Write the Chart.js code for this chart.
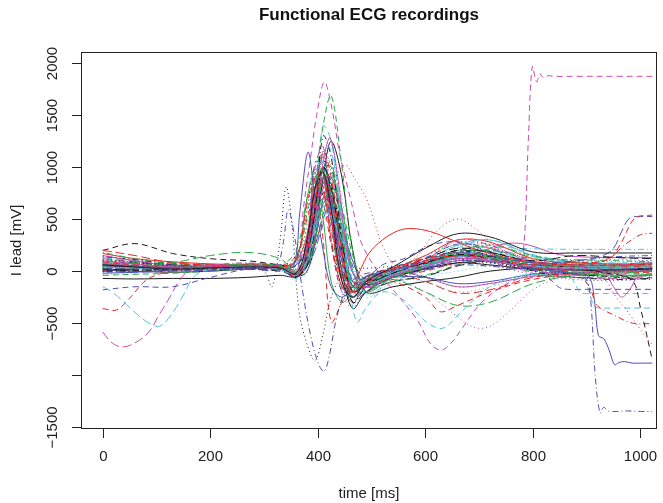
<!DOCTYPE html>
<html>
<head>
<meta charset="utf-8">
<script src="https://cdn.jsdelivr.net/npm/chart.js@4.4.1/dist/chart.umd.min.js"></script>
<style>
  body { margin: 0; background: #fff; }
  #wrap { width: 663px; height: 503px; }
</style>
</head>
<body>
<div id="wrap"><canvas id="ecg" width="663" height="503"></canvas></div>
<script>
// time grids (ms)
const tMain = [0, 60, 130, 200, 270, 330, 360, 380, 395, 410, 425, 445, 465, 490, 540, 600, 660, 720, 800, 880, 960, 1022];
const tRedRise = [0, 60, 130, 200, 270, 330, 360, 380, 395, 410, 425, 445, 465, 490, 540, 600, 660, 720, 800, 880, 940, 965, 990, 1022];
const tBlueDip = [0, 60, 130, 200, 270, 320, 335, 345, 358, 372, 388, 402, 412, 422, 435, 455, 480, 520, 600, 680, 760, 840, 880, 900, 908, 916, 925, 932, 940, 955, 975, 1000, 1022];
const tCyanEarly = [0, 20, 50, 80, 106, 130, 150, 170, 200, 270, 330, 360, 380, 395, 410, 425, 445, 465, 490, 540, 600, 660, 720, 800, 880, 960, 1022];
const tMagDip = [0, 60, 130, 200, 270, 330, 360, 380, 395, 410, 423, 440, 460, 490, 540, 600, 660, 720, 800, 880, 930, 950, 965, 980, 995, 1022];
const tBlackDrop = [0, 60, 130, 200, 270, 330, 360, 380, 395, 410, 425, 445, 465, 490, 540, 600, 660, 720, 800, 880, 940, 985, 1000, 1022];
const tLate = [0, 60, 130, 200, 270, 330, 360, 380, 400, 425, 450, 470, 490, 505, 520, 545, 580, 620, 660, 700, 750, 800, 880, 960, 1022];
const tBlueRise = [0, 60, 130, 200, 270, 330, 360, 380, 395, 410, 425, 445, 465, 490, 540, 600, 660, 720, 800, 880, 930, 950, 965, 980, 1000, 1022];
const tPinkStep = [0, 60, 130, 200, 270, 330, 360, 380, 395, 410, 425, 445, 465, 490, 540, 600, 660, 720, 770, 782, 792, 799, 807, 813, 820, 828, 840, 880, 960, 1022];
const tBlackDot = [0, 60, 130, 200, 270, 300, 315, 330, 341, 352, 365, 380, 395, 410, 425, 445, 470, 500, 560, 640, 720, 800, 880, 960, 1022];
const tRedDrop = [0, 60, 130, 200, 270, 330, 360, 380, 395, 410, 425, 445, 465, 490, 540, 600, 660, 720, 800, 880, 905, 920, 950, 985, 1022];
const tBlueStep = [0, 60, 130, 200, 270, 330, 355, 367, 382, 395, 410, 425, 445, 465, 490, 540, 600, 660, 720, 800, 880, 905, 915, 922, 932, 942, 952, 960, 970, 985, 1000, 1022];
const tCyanStep = [0, 60, 130, 200, 270, 330, 360, 380, 400, 420, 440, 458, 473, 490, 520, 560, 600, 632, 665, 720, 780, 840, 870, 880, 890, 900, 960, 1022];
const tMagDot = [0, 60, 130, 200, 270, 330, 360, 380, 395, 410, 425, 445, 465, 490, 540, 600, 650, 690, 720, 760, 800, 850, 900, 960, 1022];
const tBlueFlat = [0, 60, 130, 200, 270, 330, 360, 380, 395, 410, 425, 445, 465, 490, 520, 560, 610, 665, 720, 780, 820, 835, 850, 865, 900, 960, 1022];
const tRedHump = [0, 60, 130, 200, 270, 330, 360, 380, 395, 410, 425, 445, 465, 480, 495, 520, 550, 575, 610, 650, 700, 760, 820, 880, 960, 1022];
const tMagEarly = [0, 15, 35, 60, 85, 105, 125, 140, 160, 200, 270, 330, 360, 380, 395, 410, 425, 445, 465, 490, 540, 600, 660, 720, 800, 880, 960, 1022];
const tRedEarly = [0, 25, 50, 80, 110, 140, 170, 200, 270, 330, 360, 380, 395, 410, 425, 445, 465, 490, 540, 600, 628, 660, 720, 800, 880, 960, 1022];
const tMagHump = [0, 60, 130, 200, 270, 330, 360, 380, 395, 410, 425, 445, 465, 490, 540, 600, 660, 710, 740, 770, 800, 840, 880, 960, 1022];
const tPinkDrop = [0, 60, 130, 200, 270, 330, 360, 380, 395, 410, 425, 445, 465, 490, 540, 600, 660, 720, 800, 880, 930, 955, 975, 1000, 1022];
const tMagTall = [0, 60, 130, 200, 270, 330, 361, 373, 386, 398, 412, 425, 440, 451, 466, 479, 498, 520, 545, 585, 610, 630, 650, 670, 705, 760, 820, 880, 960, 1022];
const tRedUp = [0, 60, 130, 200, 270, 330, 360, 380, 395, 410, 425, 445, 465, 490, 540, 600, 660, 720, 800, 880, 940, 970, 1000, 1022];
const tCyanLow = [0, 60, 130, 200, 270, 330, 360, 380, 395, 410, 425, 445, 465, 490, 540, 600, 660, 720, 800, 880, 895, 905, 915, 930, 960, 1022];

// I lead values (mV), one array per recording
const ecg00 = [60, 40, 20, 30, 40, 30, -20, 300, 800, 950, 600, -100, -250, -100, 40, 220, 360, 330, 185, 175, 175, 175];
const ecg01 = [90, 60, 30, 40, 60, 40, -60, 200, 700, 1150, 900, 200, -200, -120, 20, 100, 150, 120, 60, 80, 110, 280, 510, 540];
const ecg02 = [40, 30, 20, 30, 50, 30, 60, 450, 750, 1000, 700, 0, -250, -80, 20, 150, 250, 180, 20, -40, -60, -50];
const ecg03 = [30, 20, 10, 20, 30, 20, 250, 590, 300, -200, -650, -900, -965, -800, -450, -150, -40, 0, 40, 60, 30, 10, -30, -80, -300, -1000, -1365, -1310, -1345, -1350, -1345, -1350, -1350];
const ecg04 = [-150, -210, -350, -480, -530, -400, -230, -50, 20, 40, 20, -40, 100, 450, 700, 600, 200, -100, -80, 0, 60, 140, 120, 50, 30, 30, 40];
const ecg05 = [100, 70, 40, 40, 50, 30, -40, 100, 500, 1050, 1280, 800, 50, -150, -40, 50, 120, 100, 40, 20, 0, -150, -250, -180, -60, -40];
const ecg06 = [20, 10, 20, 30, 40, 30, -30, 150, 600, 1000, 800, 200, -200, -120, -20, 80, 160, 120, 40, 20, -20, -90, -350, -850];
const ecg07 = [50, 40, 30, 40, 50, 40, 0, 80, 350, 800, 1020, 880, 700, 480, 250, 60, 120, 380, 500, 380, 150, 50, 30, 30, 40];
const ecg08 = [120, 80, 40, 50, 60, 40, 20, 150, 500, 900, 1050, 400, -150, -120, 0, 60, 180, 200, 120, 110, 100, 90];
const ecg09 = [60, 50, 40, 40, 50, 30, -40, 200, 800, 1100, 700, 0, -250, -100, 10, 100, 180, 150, 80, 100, 150, 220, 380, 510, 525, 525];
const ecg10 = [40, 30, 20, 30, 40, 30, -20, 150, 400, 560, 520, 300, 0, -120, -30, 50, 120, 100, 40, 30, 30, 40];
const ecg11 = [80, 60, 40, 40, 50, 40, -20, 250, 700, 900, 650, 100, -200, -100, 0, 100, 180, 100, 30, 150, 1300, 1970, 1820, 1900, 1860, 1880, 1875, 1875, 1875, 1875];
const ecg12 = [100, 80, 50, 40, 30, 0, -150, 300, 810, 450, -380, -700, -860, -600, -250, -50, 20, 30, 60, 120, 80, 40, 30, 30, 40];
const ecg13 = [40, 30, 20, 30, 40, 30, -30, 200, 650, 950, 700, 100, -250, -100, 0, 80, 150, 100, 30, -20, -150, -330, -420, -500, -505];
const ecg14 = [20, 40, 80, 150, 180, 120, 0, 100, 500, 900, 800, 200, -150, -120, -80, -200, -330, -300, -120, -40, -20, 0];
const ecg15 = [50, 40, 30, 40, 50, 30, 50, 585, 1145, 680, 200, -150, -250, -150, -50, 10, 80, 150, 100, 30, -30, -60, -300, -620, -650, -760, -900, -880, -870, -885, -885, -885];
const ecg16 = [80, 60, 30, 40, 50, 30, -40, 200, 900, 1200, 700, -100, -490, -350, -200, -280, -480, -550, -400, -150, -40, -40, -60, -140, -210, -215, -215, -215];
const ecg17 = [30, 20, 20, 30, 40, 30, -40, 150, 500, 800, 600, 100, -200, -150, -80, -200, -400, -540, -530, -370, -180, -60, -20, 0, 10];
const ecg18 = [0, 10, 10, 20, 30, 20, -60, 100, 600, 1300, 1100, 300, -300, -150, -20, 80, 200, 150, 0, -60, -80, -70];
const ecg19 = [200, 150, 80, 60, 50, 30, 120, 650, 900, 800, 300, -150, -200, -50, 30, 120, 180, 120, 40, 30, 40, 40];
const ecg20 = [60, 50, 30, 40, 70, 50, -20, 80, 300, 700, 900, 600, 0, -200, -60, 50, 150, 130, 30, -20, -40, -30];
const ecg21 = [-180, -150, -150, -60, 20, 20, -30, 150, 500, 850, 700, 150, -150, -80, 60, 120, 250, 280, 180, 40, -30, -90, -160, -175, -175, -175, -175];
const ecg22 = [-30, -20, 0, 20, 30, 10, -80, 0, 200, 500, 600, 350, -50, -150, -80, -100, -200, -150, -40, -10, 0, 10];
const ecg23 = [100, 70, 40, 60, 80, 50, 80, 300, 1000, 1200, 600, -100, -300, -100, 0, 100, 300, 250, 80, 50, 60, 80];
const ecg24 = [20, 20, 30, 40, 40, 30, -50, 50, 400, 850, 800, 200, -200, -100, 0, 120, 220, 180, 100, 150, 130, 120];
const ecg25 = [70, 50, 30, 40, 50, 30, -30, 200, 700, 900, 500, -100, -150, 20, 170, 300, 390, 410, 380, 300, 200, 120, 80, 60, 60, 70];
const ecg26 = [60, 50, 40, 50, 60, 40, -20, 200, 800, 1400, 1690, 1000, 200, -150, -60, 40, 150, 150, 60, 40, 40, 50];
const ecg27 = [150, 100, 60, 40, 30, 20, 60, 400, 650, 950, 500, -200, -350, -150, -20, 50, 100, 60, -30, -80, -90, -70];
const ecg28 = [90, 60, 40, 50, 50, 40, -20, 200, 600, 850, 700, 200, -150, -100, 0, 100, 200, 230, 215, 210, 210, 210];
const ecg29 = [-585, -680, -730, -690, -590, -420, -250, -110, 0, 30, 30, 20, -30, 150, 500, 900, 750, 200, -150, -100, 0, 80, 150, 120, 50, 30, 30, 40];
const ecg30 = [-70, -75, -70, -70, -60, -40, -50, 100, 600, 900, 600, 0, -360, -200, -60, 20, 80, 60, 20, 10, 10, 20];
const ecg31 = [-360, -375, -260, -90, -20, 10, 20, 30, 40, 30, -60, 300, 800, 300, -490, -300, -150, -100, -100, -250, -390, -330, -200, -80, -30, -20, -10];
const ecg32 = [80, 60, 50, 40, 40, 20, -30, 100, 350, 600, 550, 300, 0, -100, -30, -50, -150, -120, -40, -20, -10, 0];
const ecg33 = [10, 0, 10, 30, 50, 40, 0, 150, 500, 750, 500, 100, -100, -60, 10, 80, 150, 120, 60, 100, 140, 150];
const ecg34 = [50, 40, 30, 50, 60, 30, -70, 100, 700, 1400, 1250, 500, -200, -200, -60, 50, 180, 200, 90, 60, 70, 80];
const ecg35 = [150, 100, 50, 40, 40, 30, -20, 100, 450, 800, 900, 500, 0, -150, -50, 50, 130, 200, 255, 270, 240, 170, 140, 130, 130];
const ecg36 = [200, 265, 170, 120, 100, 60, 50, 250, 750, 1000, 850, 300, -150, -130, -20, 100, 200, 180, 90, 60, 60, 70];
const ecg37 = [40, 30, 30, 40, 50, 30, -20, 150, 550, 850, 700, 200, -150, -100, 0, 80, 150, 100, 40, 20, -60, -250, -380, -560, -710];
const ecg38 = [180, 120, 70, 50, 40, 20, 100, 550, 850, 1000, 800, 100, -250, -120, 10, 100, 200, 250, 150, 80, 60, 60];
const ecg39 = [0, -10, 0, 10, 20, 10, -40, 50, 250, 500, 650, 450, 100, -150, -50, 30, 100, 90, 40, 20, 20, 30];
const ecg40 = [70, 50, 20, 30, 40, 30, -20, 150, 450, 620, 600, 350, -150, -120, -10, 100, 250, 300, 150, 60, 40, 50];
const ecg41 = [60, 40, 30, 30, 40, 30, 0, 590, 1070, 1500, 1820, 1600, 1150, 905, 585, 300, 105, -60, -210, -470, -700, -760, -680, -540, -300, -100, -20, 0, 10, 20];
const ecg42 = [110, 90, 60, 40, 50, 40, 120, 600, 950, 1100, 500, -200, -250, -60, 20, 80, 120, 80, 20, 10, 20, 30];
const ecg43 = [100, 70, 40, 40, 50, 30, -40, 100, 500, 800, 700, 200, -150, -100, 0, 60, 140, 120, 60, 60, 120, 250, 350, 365];
const ecg44 = [30, 30, 20, 30, 40, 30, -50, 80, 450, 1000, 1000, 400, -150, -150, -30, 60, 200, 220, -20, -60, -50, -40];
const ecg45 = [-20, -10, 10, 20, 30, 20, -60, 50, 300, 650, 700, 300, -100, -130, -60, -60, -120, -100, -30, -10, 0, 0];
const ecg46 = [50, 40, 30, 40, 50, 30, -30, 150, 600, 900, 750, 200, -250, -120, -30, 50, 150, 130, 40, 20, -60, -200, -340, -355, -355, -355];
const ecg47 = [90, 70, 50, 60, 60, 40, 90, 250, 700, 850, 600, 100, -200, -80, 30, 150, 280, 250, 100, 60, 60, 60];
const ecg48 = [140, 110, 70, 50, 40, 30, -20, 150, 550, 800, 650, 200, -100, -100, 0, 70, 160, 140, 20, -30, -60, -80];
const ecg49 = [10, 20, 30, 40, 30, 20, -30, 120, 450, 700, 650, 250, -100, -80, -20, -100, -210, -180, -60, -20, 0, 10];
const ecg50 = [50, 40, 30, 40, 50, 40, 100, 700, 950, 500, -100, -300, -200, -60, 0, 80, 160, 140, 80, 60, 50, 60];
const ecg51 = [0, 20, 40, 60, 40, 20, 60, 300, 1050, 1000, 300, -200, -150, -50, 40, 130, 260, 220, 100, 50, 40, 40];
const ecg52 = [100, 60, 30, 20, 20, 10, -60, -20, 400, 950, 1100, 700, 0, -250, -120, -50, 0, 50, 50, 30, 20, 20];
const ecg53 = [20, 10, 0, 10, 30, 50, 80, 200, 700, 750, 400, 0, -180, -100, -20, 50, 140, 160, 10, -40, -30, -20];
const ecg54 = [60, 80, 60, 40, 20, 0, -40, 100, 550, 1000, 750, 100, -300, -200, -100, -50, 50, 100, 60, 40, 30, 20];
const ecg55 = [170, 120, 90, 70, 60, 40, 100, 350, 900, 950, 500, -50, -200, -80, 20, 150, 300, 280, 120, 80, 70, 80];
const ecg56 = [-40, -30, -20, 0, 20, 20, -30, 50, 250, 550, 800, 600, 150, -150, -100, -40, 60, 120, 80, 40, 20, 10];
const ecg57 = [30, 50, 70, 60, 50, 30, -20, 250, 850, 1150, 800, 50, -300, -150, -40, 40, 120, 150, 40, 90, 110, 100];
const ecg58 = [80, 50, 20, 20, 30, 40, -10, 120, 400, 800, 950, 500, -100, -220, -100, 20, 220, 300, 160, 90, 80, 80];
const ecg59 = [120, 90, 60, 60, 70, 60, 10, 200, 600, 700, 500, 150, -100, -100, -30, 30, 100, 120, -20, -60, -70, -60];
const ecg60 = [10, 0, -10, 0, 20, 30, -50, 0, 300, 900, 1250, 900, 200, -200, -150, -100, -60, 0, 30, 20, 20, 30];
const ecg61 = [60, 40, 40, 50, 60, 50, 150, 500, 750, 650, 250, -150, -250, -150, -60, 0, 80, 100, 60, 40, 30, 30];
const ecg62 = [90, 70, 50, 30, 20, 10, -30, 150, 650, 1100, 950, 250, -250, -150, -30, 100, 230, 260, 140, 100, 90, 100];
const ecg63 = [-10, 0, 20, 40, 60, 40, -40, 60, 350, 700, 850, 500, 50, -120, -50, 30, 120, 140, 80, 40, 20, 10];
const ecg64 = [130, 100, 80, 60, 40, 30, 60, 250, 800, 1050, 700, 100, -200, -130, -40, 40, 150, 200, 140, 90, 60, 50];
const ecg65 = [40, 30, 40, 50, 60, 40, -40, 150, 600, 850, 600, 150, -150, -80, 0, -60, -150, -120, -50, -20, -10, 0];
const ecg66 = [70, 60, 50, 40, 40, 30, -30, 100, 450, 750, 700, 350, -100, -150, -40, 60, 170, 190, 10, -30, -50, -40];
const ecg67 = [0, 30, 50, 30, 30, 20, -60, 50, 500, 1150, 1000, 300, -200, -100, 20, 120, 260, 230, 110, 60, 50, 60];
const ecg68 = [100, 80, 50, 40, 50, 60, 200, 700, 1000, 900, 400, -100, -300, -120, 0, 80, 180, 150, 70, 60, 70, 80];
const ecg69 = [50, 40, 20, 10, 20, 20, -40, 50, 200, 450, 550, 400, 100, -80, -40, 10, 80, 90, 50, 30, 20, 30];

// axis ticks
const xTicks = [0, 200, 400, 600, 800, 1000];
const yTicks = [-1500, -1000, -500, 0, 500, 1000, 1500, 2000];
const yTickLabels = ['\u22121500', '', '\u2212500', '0', '500', '1000', '1500', '2000'];

// recording order (matplot colours / line types cycle along it)
const recordings = [
  [tMain, ecg00], [tRedRise, ecg01], [tMain, ecg02], [tBlueDip, ecg03], [tCyanEarly, ecg04],
  [tMagDip, ecg05], [tBlackDrop, ecg06], [tLate, ecg07], [tMain, ecg08], [tBlueRise, ecg09],
  [tMain, ecg10], [tPinkStep, ecg11], [tBlackDot, ecg12], [tRedDrop, ecg13], [tMain, ecg14],
  [tBlueStep, ecg15], [tCyanStep, ecg16], [tMagDot, ecg17], [tMain, ecg18], [tMain, ecg19],
  [tMain, ecg20], [tBlueFlat, ecg21], [tMain, ecg22], [tMain, ecg23], [tMain, ecg24],
  [tRedHump, ecg25], [tMain, ecg26], [tMain, ecg27], [tMain, ecg28], [tMagEarly, ecg29],
  [tMain, ecg30], [tRedEarly, ecg31], [tMain, ecg32], [tMain, ecg33], [tMain, ecg34],
  [tMagHump, ecg35], [tMain, ecg36], [tPinkDrop, ecg37], [tMain, ecg38], [tMain, ecg39],
  [tMain, ecg40], [tMagTall, ecg41], [tMain, ecg42], [tRedUp, ecg43], [tMain, ecg44],
  [tMain, ecg45], [tCyanLow, ecg46], [tMain, ecg47], [tMain, ecg48], [tMain, ecg49],
  [tMain, ecg50], [tMain, ecg51], [tMain, ecg52], [tMain, ecg53], [tMain, ecg54],
  [tMain, ecg55], [tMain, ecg56], [tMain, ecg57], [tMain, ecg58], [tMain, ecg59],
  [tMain, ecg60], [tMain, ecg61], [tMain, ecg62], [tMain, ecg63], [tMain, ecg64],
  [tMain, ecg65], [tMain, ecg66], [tMain, ecg67], [tMain, ecg68], [tMain, ecg69]
];

// R-ish palette and lty 1..5
const palette = ['#1c1c1c', '#ee2424', '#26a844', '#4e4eb6', '#52c4de', '#c64ab2'];
const dashes = [[], [6, 4], [1, 3], [1, 3, 6, 3], [9, 4]];

const datasets = recordings.map(([t, v], i) => ({
  data: t.map((tt, k) => ({ x: tt, y: v[k] })),
  borderColor: palette[i % 6],
  borderDash: dashes[i % 5],
  borderWidth: 1,
  pointRadius: 0,
  tension: 0.35,
  fill: false
}));

const font = '"Liberation Sans", Arial, Helvetica, sans-serif';

// draw box, ticks and labels the way base R does
const rAxes = {
  id: 'rAxes',
  afterDraw(chart) {
    const { ctx, chartArea: a, scales: { x, y } } = chart;
    ctx.save();
    ctx.strokeStyle = '#222';
    ctx.fillStyle = '#222';
    ctx.lineWidth = 1;
    ctx.strokeRect(a.left + 0.5, a.top + 0.5, a.right - a.left - 1, a.bottom - a.top - 1);

    ctx.font = '15px ' + font;
    ctx.textAlign = 'center';
    ctx.textBaseline = 'middle';
    xTicks.forEach(v => {
      const px = Math.round(x.getPixelForValue(v)) + 0.5;
      ctx.beginPath();
      ctx.moveTo(px, a.bottom);
      ctx.lineTo(px, a.bottom + 9);
      ctx.stroke();
      ctx.fillText(String(v), px, a.bottom + 28);
    });
    yTicks.forEach((v, i) => {
      const py = Math.round(y.getPixelForValue(v)) + 0.5;
      ctx.beginPath();
      ctx.moveTo(a.left, py);
      ctx.lineTo(a.left - 9, py);
      ctx.stroke();
      if (yTickLabels[i]) {
        ctx.save();
        ctx.translate(a.left - 28, py);
        ctx.rotate(-Math.PI / 2);
        ctx.fillText(yTickLabels[i], 0, 0);
        ctx.restore();
      }
    });

    const cx = (a.left + a.right) / 2;
    ctx.fillText('time [ms]', cx, 494);
    ctx.save();
    ctx.translate(17, (a.top + a.bottom) / 2);
    ctx.rotate(-Math.PI / 2);
    ctx.fillText('I lead [mV]', 0, 0);
    ctx.restore();

    ctx.font = 'bold 17px ' + font;
    ctx.fillStyle = '#111';
    ctx.fillText('Functional ECG recordings', cx, 15);
    ctx.restore();
  }
};

new Chart(document.getElementById('ecg'), {
  type: 'line',
  data: { datasets },
  options: {
    responsive: false,
    animation: false,
    layout: { padding: { left: 81, right: 6, top: 52, bottom: 74 } },
    scales: {
      x: { type: 'linear', min: -40.4, max: 1031, display: false },
      y: { type: 'linear', min: -1519, max: 2109, display: false }
    },
    plugins: {
      legend: { display: false },
      tooltip: { enabled: false },
      title: { display: false }
    }
  },
  plugins: [rAxes]
});
</script>
</body>
</html>
